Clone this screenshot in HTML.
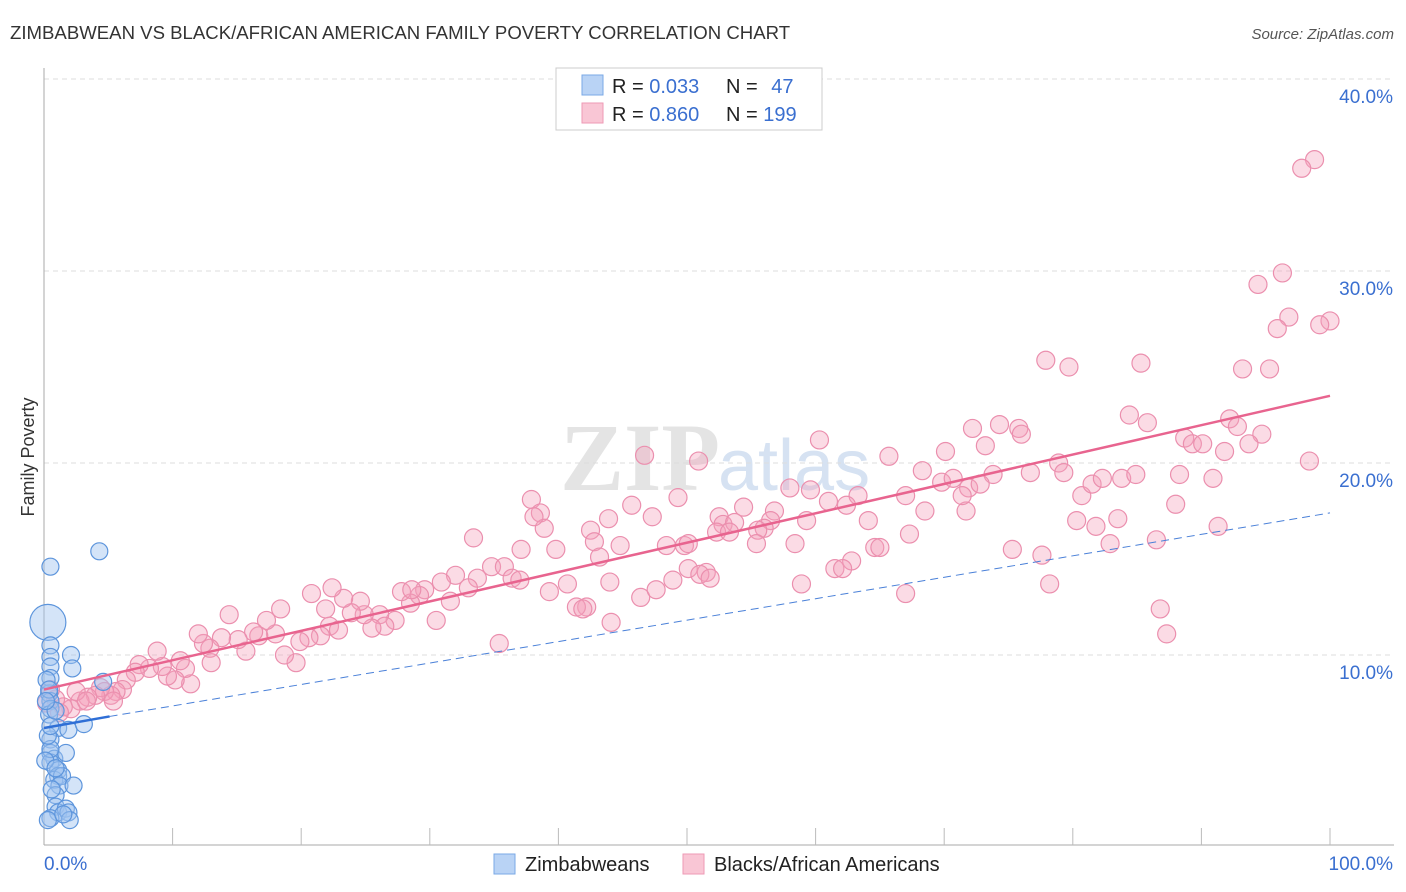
<!DOCTYPE html>
<html><head><meta charset="utf-8"><style>
body{margin:0;background:#fff;font-family:"Liberation Sans",sans-serif;}
#wrap{position:relative;width:1406px;height:892px;overflow:hidden;}
</style></head><body>
<div id="wrap">
<svg id="chart" width="1406" height="892" xmlns="http://www.w3.org/2000/svg">
<text x="10" y="39" font-size="18.6" fill="#333">ZIMBABWEAN VS BLACK/AFRICAN AMERICAN FAMILY POVERTY CORRELATION CHART</text>
<text x="1394" y="39" font-size="15" fill="#555" font-style="italic" text-anchor="end">Source: ZipAtlas.com</text>
<text x="720" y="490" font-size="96" fill="#e4e4e4" text-anchor="end" font-family="Liberation Serif,serif" font-weight="bold">ZIP</text>
<text x="718" y="490" font-size="72" fill="#d6e2f2">atlas</text>
<text transform="translate(34,457) rotate(-90)" font-size="18" fill="#333" text-anchor="middle">Family Poverty</text>
<g id="grid"></g><g id="axes"></g><g id="pts"></g><g id="lines"></g>
<g>
<rect x="556" y="68" width="266" height="62" fill="#fff" stroke="#ccc"/>
<rect x="582" y="75" width="21" height="20" fill="#b9d3f5" stroke="#7aa8e6"/>
<rect x="582" y="103" width="21" height="20" fill="#f9c6d5" stroke="#ee9ab5"/>
<text x="612" y="93" font-size="20" fill="#222">R = <tspan fill="#3a6fd0">0.033</tspan></text>
<text x="726" y="93" font-size="20" fill="#222">N = <tspan fill="#3a6fd0" dx="8">47</tspan></text>
<text x="612" y="121" font-size="20" fill="#222">R = <tspan fill="#3a6fd0">0.860</tspan></text>
<text x="726" y="121" font-size="20" fill="#222">N = <tspan fill="#3a6fd0">199</tspan></text>
</g>
<g>
<rect x="494" y="854" width="21" height="20" fill="#b9d3f5" stroke="#7aa8e6"/>
<text x="525" y="871" font-size="20" fill="#222">Zimbabweans</text>
<rect x="683" y="854" width="21" height="20" fill="#f9c6d5" stroke="#ee9ab5"/>
<text x="714" y="871" font-size="20" fill="#222">Blacks/African Americans</text>
</g>
</svg>
</div>
<script>
const yTicks=[10,20,30,40];
const yTickLabels=["10.0%","20.0%","30.0%","40.0%"];
const xTickLabels=["0.0%","100.0%"];
const pinkX=[98.8,97.8,94.4,96.3,96.8,95.9,100,99.2,93.2,95.3,77.9,79.7,85.3,84.4,85.8,92.2,92.8,94.7,93.7,91.8,88.7,89.3,90.1,90.9,88.3,98.4,74.3,75.8,76.0,72.2,73.2,78.9,79.3,76.7,70.1,68.3,69.8,71.9,73.8,72.8,80.7,81.5,82.3,83.8,84.9,80.3,81.8,83.5,82.9,88.0,86.5,91.3,75.3,77.6,78.2,86.8,87.3,60.3,65.7,63.3,62.4,64.1,59.6,58.0,61.0,68.5,71.7,70.7,71.4,67.0,67.3,64.6,65.0,62.8,61.5,62.1,58.9,67.0,50.9,46.7,49.3,45.7,47.3,52.5,52.8,53.7,54.4,56.8,56.5,56.0,55.5,59.3,58.4,55.4,52.3,53.3,49.8,48.4,50.1,42.5,42.8,43.2,43.9,44.8,37.9,38.6,38.9,39.8,37.1,38.1,33.4,33.7,34.8,35.8,36.4,37.0,44.0,42.2,40.7,39.3,41.4,41.9,46.4,47.6,51.5,48.9,50.1,51.0,51.8,44.1,35.4,32.0,30.9,33.0,31.6,30.5,29.6,29.2,28.5,27.8,28.6,27.3,26.1,26.5,25.5,24.9,24.6,23.9,23.3,22.4,21.9,20.8,22.2,21.5,22.9,20.6,19.9,19.6,18.7,18.0,17.3,18.4,16.7,16.3,15.7,15.1,14.4,13.8,12.9,13.0,12.4,12.0,11.4,11.0,10.6,10.2,9.6,9.2,8.8,8.2,7.4,7.1,6.4,6.1,5.6,5.2,4.7,4.4,4.0,3.4,2.8,2.1,1.5,0.9,0.5,0.2,5.4,1.2,2.5,3.3];
const pinkY=[35.8,35.35,29.3,29.9,27.6,27.0,27.4,27.2,24.9,24.9,25.35,25.0,25.2,22.5,22.1,22.3,21.9,21.5,21.0,20.6,21.3,21.0,21.0,19.2,19.4,20.1,22.0,21.8,21.5,21.8,20.9,20.0,19.5,19.5,20.6,19.6,19.0,18.7,19.4,18.9,18.3,18.9,19.2,19.2,19.4,17.0,16.7,17.1,15.8,17.85,16.0,16.7,15.5,15.2,13.7,12.4,11.1,21.2,20.35,18.3,17.8,17.0,18.6,18.7,18.0,17.5,17.5,19.2,18.3,18.3,16.3,15.6,15.6,14.9,14.5,14.5,13.7,13.2,20.1,20.4,18.2,17.8,17.2,17.2,16.8,16.9,17.7,17.5,17.0,16.6,16.5,17.0,15.8,15.8,16.4,16.4,15.7,15.7,15.8,16.5,15.9,15.1,17.1,15.7,18.1,17.4,16.6,15.5,15.5,17.2,16.1,14.0,14.6,14.6,14.0,13.9,13.8,12.5,13.7,13.3,12.5,12.4,13.0,13.4,14.3,13.9,14.5,14.2,14.0,11.7,10.6,14.15,13.8,13.5,12.8,11.8,13.4,13.1,12.7,13.3,13.4,11.8,12.1,11.5,11.4,12.1,12.8,12.2,12.95,13.5,12.4,13.2,11.5,11.0,11.3,10.9,10.7,9.6,10.0,11.1,11.8,12.4,11.0,11.2,10.2,10.8,12.1,10.9,10.35,9.6,10.6,11.1,8.5,9.3,9.7,8.7,8.9,9.4,10.2,9.3,9.5,9.1,8.7,8.2,8.1,7.9,8.1,8.3,7.9,7.8,7.6,7.2,7.3,7.7,8.2,7.5,7.6,7.0,8.1,7.6];
const blueX=[0.5,4.3,0.3,0.5,0.5,0.5,0.5,2.1,2.2,4.6,0.4,0.5,0.5,0.4,1.1,1.9,3.1,0.5,0.5,0.8,1.7,0.5,1.1,1.1,0.8,1.4,1.2,2.3,0.9,0.9,1.1,1.7,1.9,2.0,0.5,0.3,0.2,0.4,0.5,0.6,1.5,0.3,0.5,0.9,0.1,0.9,0.15];
const blueY=[14.6,15.4,11.7,10.5,9.9,9.4,8.8,10.0,9.3,8.6,8.0,7.6,7.2,6.9,6.2,6.1,6.4,5.6,4.9,4.6,4.9,4.4,4.0,3.7,3.5,3.7,3.2,3.2,2.7,2.1,1.8,2.0,1.8,1.4,1.5,1.4,8.7,8.2,5.1,3.0,1.7,5.8,6.3,7.1,4.5,4.1,7.6];
const pinkTrend=[[0,8.2],[100,23.5]];
const blueSolid=[[0,6.2],[5.1,6.8]];
const blueDash=[[5.1,6.8],[100,17.4]];

const NS="http://www.w3.org/2000/svg";
const X0=44,X1=1330,Y0=847,PPY=19.2;
function xs(v){return X0+(X1-X0)*v/100;}
function ys(v){return Y0-PPY*v;}
function mk(tag,attrs,parent){const e=document.createElementNS(NS,tag);for(const k in attrs)e.setAttribute(k,attrs[k]);parent.appendChild(e);return e;}
const grid=document.getElementById('grid'),axes=document.getElementById('axes'),pts=document.getElementById('pts'),lines=document.getElementById('lines');
yTicks.forEach((t,i)=>{
  const l=mk('line',{x1:X0,x2:1394,y1:ys(t),y2:ys(t),stroke:'#ddd','stroke-dasharray':'5,4'},grid);
  
  
  const tx=mk('text',{x:1393,y:ys(t)+24,'font-size':19,fill:'#3a6fd0','text-anchor':'end'},axes);
  tx.textContent=yTickLabels[i];
  
  
});
const ya=mk('line',{x1:X0,x2:X0,y1:68,y2:845,stroke:'#aaa'},axes);


const xa=mk('line',{x1:X0,x2:1394,y1:845,y2:845,stroke:'#aaa'},axes);


for(let i=1;i<=10;i++){
  const tk=mk('line',{x1:xs(i*10),x2:xs(i*10),y1:828,y2:845,stroke:'#bbb'},axes);
  
  
}
const xl0=mk('text',{x:44,y:870,'font-size':19,fill:'#3a6fd0'},axes);xl0.textContent=xTickLabels[0];


const xl1=mk('text',{x:1393,y:870,'font-size':19,fill:'#3a6fd0','text-anchor':'end'},axes);xl1.textContent=xTickLabels[1];


pinkX.forEach((v,i)=>{
  const c=mk('circle',{cx:xs(v),cy:ys(pinkY[i]),r:9,fill:'rgba(244,160,186,0.38)',stroke:'#eb8fae','stroke-width':1.2},pts);
  
  
});
blueX.forEach((v,i)=>{
  const c=mk('circle',{cx:xs(v),cy:ys(blueY[i]),r:i==2?18:8.5,fill:'rgba(160,196,240,0.45)',stroke:'#5d95dc','stroke-width':1.2},pts);
  
  
});
const pl=mk('line',{x1:xs(pinkTrend[0][0]),y1:ys(pinkTrend[0][1]),x2:xs(pinkTrend[1][0]),y2:ys(pinkTrend[1][1]),stroke:'#e8648f','stroke-width':2.5},lines);


const bs=mk('line',{x1:xs(blueSolid[0][0]),y1:ys(blueSolid[0][1]),x2:xs(blueSolid[1][0]),y2:ys(blueSolid[1][1]),stroke:'#2f6fd6','stroke-width':2.5},lines);


const bd=mk('line',{x1:xs(blueDash[0][0]),y1:ys(blueDash[0][1]),x2:xs(blueDash[1][0]),y2:ys(blueDash[1][1]),stroke:'#4a80d8','stroke-width':1,'stroke-dasharray':'8,5'},lines);


</script>
</body></html>
